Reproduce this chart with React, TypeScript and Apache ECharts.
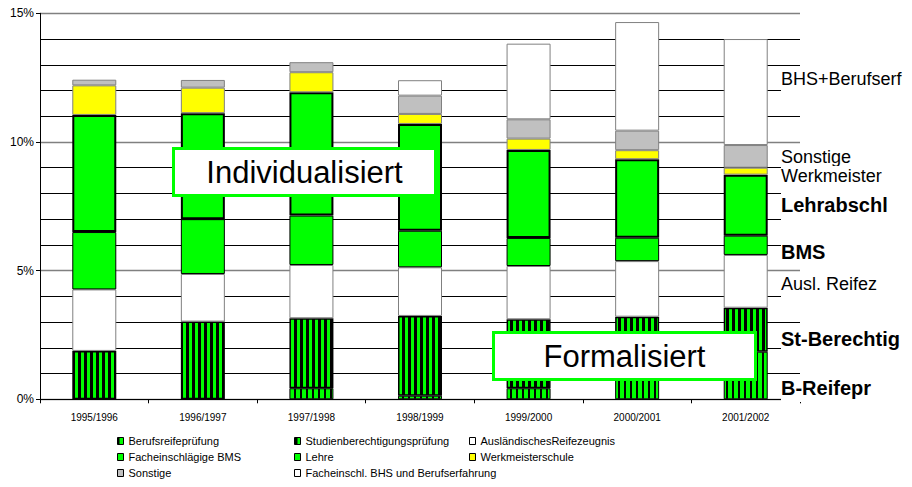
import React, { useEffect, useRef } from "react";
import * as echarts from "echarts";

const categories = ["1995/1996", "1996/1997", "1997/1998", "1998/1999", "1999/2000", "2000/2001", "2001/2002"];
const seriesNames = [
  "Berufsreifeprüfung",
  "Studienberechtigungsprüfung",
  "AusländischesReifezeugnis",
  "Facheinschlägige BMS",
  "Lehre",
  "Werkmeisterschule",
  "Sonstige",
  "Facheinschl. BHS und Berufserfahrung",
];
const berufsreife = [0, 0, 0.43, 0.14, 0.43, 1.0, 1.85];
const studien = [1.88, 3.02, 2.72, 3.1, 2.68, 2.21, 1.71];
const auslReife = [2.39, 1.85, 2.07, 1.89, 2.07, 2.16, 2.05];
const bms = [2.23, 2.13, 1.92, 1.42, 1.09, 0.91, 0.75];
const lehre = [4.55, 4.12, 4.79, 4.15, 3.42, 3.05, 2.37];
const werkmeister = [1.15, 0.99, 0.78, 0.39, 0.44, 0.35, 0.27];
const sonstige = [0.22, 0.3, 0.39, 0.71, 0.75, 0.76, 0.88];
const bhsBeruf = [0, 0, 0, 0.6, 2.94, 4.22, 4.12];
const yTickLabels = ["0%", "5%", "10%", "15%"];
const rightLabels = [
  { text: "BHS+Berufserf", y: 79, bold: false, box: [66, 92] },
  { text: "Sonstige", y: 157, bold: false, box: null },
  { text: "Werkmeister", y: 176, bold: false, box: [166, 188] },
  { text: "Lehrabschl", y: 205, bold: true, box: [190, 221] },
  { text: "BMS", y: 252, bold: true, box: [245, 263] },
  { text: "Ausl. Reifez", y: 284, bold: false, box: [273, 298] },
  { text: "St-Berechtig", y: 339, bold: true, box: [326, 352] },
  { text: "B-Reifepr", y: 388, bold: true, box: [376, 402] },
];

const FONT = "'Liberation Sans', Arial, sans-serif";

function stripes(black: number, green: number) {
  const c = document.createElement("canvas");
  c.width = black + green;
  c.height = 4;
  const ctx = c.getContext("2d")!;
  ctx.fillStyle = "#00FF00";
  ctx.fillRect(0, 0, c.width, c.height);
  ctx.fillStyle = "#000000";
  ctx.fillRect(0, 0, black, c.height);
  return { image: c, repeat: "repeat", imageWidth: c.width, imageHeight: c.height } as any;
}

export default function App() {
  const ref = useRef<HTMLDivElement>(null);
  useEffect(() => {
    if (!ref.current) return;
    const chart = echarts.init(ref.current, undefined, { renderer: "svg" });
    const values = [berufsreife, studien, auslReife, bms, lehre, werkmeister, sonstige, bhsBeruf];
    const styles: any[] = [
      { color: stripes(2, 4), borderColor: "#000", borderWidth: 1 },
      { color: stripes(3, 3), borderColor: "#000", borderWidth: 1.5 },
      { color: "#FFFFFF", borderColor: "#808080", borderWidth: 1 },
      { color: "#00FF00", borderColor: "#000", borderWidth: 1 },
      { color: "#00FF00", borderColor: "#000", borderWidth: 2 },
      { color: "#FFFF00", borderColor: "#808080", borderWidth: 1 },
      { color: "#C0C0C0", borderColor: "#808080", borderWidth: 1 },
      { color: "#FFFFFF", borderColor: "#808080", borderWidth: 1 },
    ];
    const series = seriesNames.map((name, i) => ({
      name,
      type: "bar",
      stack: "total",
      barWidth: 44,
      data: values[i].map((v) => (v === 0 ? null : v)),
      itemStyle: styles[i],
      emphasis: { disabled: true },
    }));

    const legendBase = {
      orient: "vertical",
      top: 428,
      itemWidth: 6,
      itemHeight: 7,
      itemGap: 0,
      selectedMode: false,
      icon: "rect",
      itemStyle: { borderColor: "#000", borderWidth: 1 },
      textStyle: { fontSize: 11, fontFamily: FONT, color: "#000", lineHeight: 16 },
    };

    const graphics: any[] = [];
    rightLabels.forEach((l, i) => {
      const zBase = 100 + i * 2;
      if (l.box) {
        graphics.push({
          type: "rect",
          z: zBase,
          shape: { x: 781, y: l.box[0], width: 131, height: l.box[1] - l.box[0] },
          style: { fill: "#FFFFFF" },
        });
      }
      graphics.push({
        type: "text",
        z: zBase + 1,
        x: 781,
        y: l.y,
        style: {
          text: l.text,
          fontSize: l.bold ? 20 : 18,
          fontWeight: l.bold ? "bold" : "normal",
          fontFamily: FONT,
          fill: "#000",
          align: "left",
          verticalAlign: "middle",
        },
      });
    });
    const boxes = [
      { text: "Individualisiert", x: 173.5, y: 148.5 },
      { text: "Formalisiert", x: 493.5, y: 332.5 },
    ];
    boxes.forEach((b) => {
      graphics.push({
        type: "rect",
        z: 200,
        shape: { x: b.x, y: b.y, width: 262, height: 47 },
        style: { fill: "#FFFFFF", stroke: "#00FF00", lineWidth: 3 },
      });
      graphics.push({
        type: "text",
        z: 201,
        x: b.x + 131,
        y: b.y + 24,
        style: {
          text: b.text,
          fontSize: 31,
          fontFamily: FONT,
          fill: "#000",
          align: "center",
          verticalAlign: "middle",
        },
      });
    });

    chart.setOption({
      animation: false,
      grid: { left: 40, right: 112, top: 13.3, bottom: 87.7 },
      xAxis: {
        type: "category",
        data: categories,
        axisLine: { show: true, lineStyle: { color: "#000", width: 1 } },
        axisTick: { show: true, length: 4, lineStyle: { color: "#000" } },
        axisLabel: { fontSize: 10, fontFamily: FONT, color: "#000", margin: 13 },
        splitLine: { show: false },
      },
      yAxis: {
        type: "value",
        min: 0,
        max: 15,
        interval: 5,
        axisLine: { show: true, lineStyle: { color: "#000", width: 1 } },
        axisTick: { show: true, length: 4, lineStyle: { color: "#000" } },
        axisLabel: {
          fontSize: 12,
          fontFamily: FONT,
          color: "#000",
          margin: 6,
          formatter: (v: number) => yTickLabels[Math.round(v / 5)] ?? "",
        },
        splitLine: { show: true, lineStyle: { color: "#808080", width: 1.3 } },
        minorTick: { show: false, splitNumber: 5 },
        minorSplitLine: { show: true, lineStyle: { color: "#000", width: 1 } },
      },
      legend: [
        { ...legendBase, left: 112, data: [seriesNames[0], seriesNames[3], seriesNames[6]] },
        { ...legendBase, left: 289, data: [seriesNames[1], seriesNames[4], seriesNames[7]] },
        { ...legendBase, left: 464, data: [seriesNames[2], seriesNames[5]] },
      ],
      series,
      graphic: graphics,
    } as any);
    return () => chart.dispose();
  }, []);
  return (
    <div
      ref={ref}
      style={{ position: "fixed", left: 0, top: 0, width: 912, height: 487, background: "#fff" }}
    />
  );
}
